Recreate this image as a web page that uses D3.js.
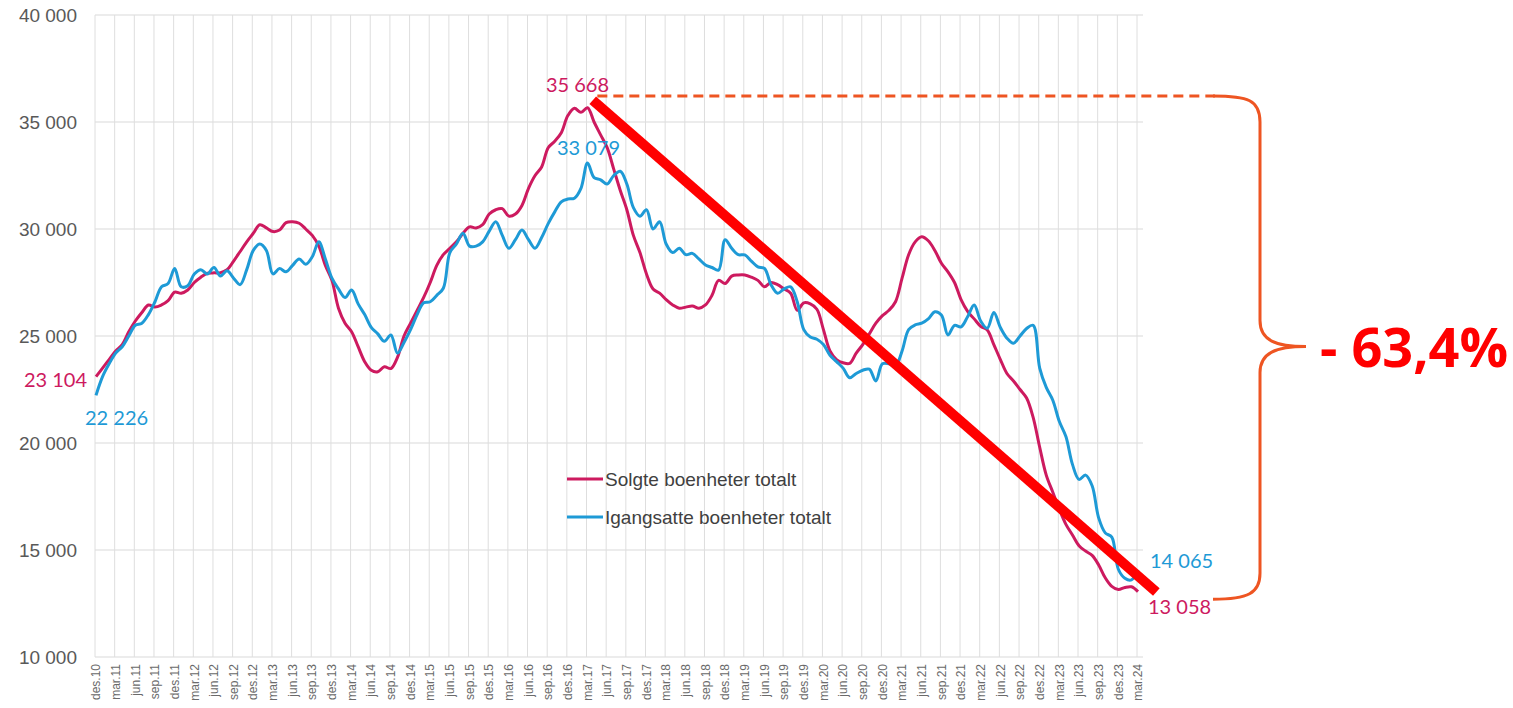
<!DOCTYPE html>
<html>
<head>
<meta charset="utf-8">
<script src="https://cdn.jsdelivr.net/npm/d3@7"></script>
<style>
  html, body { margin: 0; padding: 0; background: #fff; }
  svg { display: block; }
</style>
</head>
<body>
<svg id="chart" width="1513" height="708"></svg>
<script>
// ---------- DATA ----------
// Monthly values, des.10 (index 0) to mar.24 (index 159)
const solgte = [
  23104, 23500, 23900, 24300, 24600, 25200, 25700, 26100, 26450, 26350,
  26450, 26650, 27050, 27000, 27150, 27500, 27750, 27930, 27950, 27960,
  28100, 28500, 28950, 29400, 29800, 30200, 30050, 29880, 29950, 30300,
  30340, 30270, 30000, 29700, 29200, 28300, 27600, 26300, 25600, 25200,
  24500, 23800, 23400, 23330, 23560, 23480, 24000, 25000, 25600, 26200,
  26800, 27500, 28300, 28800, 29100, 29400, 29800, 30100, 30050, 30200,
  30700, 30900, 30950, 30600, 30700, 31100, 31900, 32500, 32900, 33800,
  34100, 34500, 35300, 35640, 35450, 35668, 35000, 34400, 33800, 32800,
  31800, 30900, 29700, 28900, 27900, 27200, 27000, 26700, 26450, 26300,
  26350, 26400, 26300, 26450, 26900, 27600, 27450, 27800, 27850, 27850,
  27750, 27600, 27300, 27500, 27400, 27200, 27000, 26200, 26550, 26500,
  26250, 25300, 24300, 23900, 23750, 23720, 24200, 24600, 25100, 25600,
  25950, 26200, 26600, 27700, 28800, 29400, 29640, 29450, 29000, 28400,
  28000, 27500, 26700, 26150, 25800, 25450, 25280, 24600, 23900, 23250,
  22900, 22500, 22100, 21200, 19800, 18500, 17700, 16900, 16200, 15700,
  15200, 14950, 14750, 14300, 13700, 13300, 13150, 13250, 13280, 13058
];
const igangsatte = [
  22226, 23100, 23700, 24200, 24500, 25000, 25500, 25600, 26000, 26600,
  27300, 27450, 28150, 27300, 27350, 27900, 28100, 27900, 28200, 27800,
  28050, 27700, 27400, 28100, 29000, 29300, 29000, 27900, 28150, 28000,
  28300, 28600, 28350, 28700, 29400, 28600, 27700, 27200, 26800, 27150,
  26500, 26000, 25400, 25100, 24750, 25050, 24200, 24700, 25300, 26000,
  26550, 26600, 26900, 27230, 28900, 29300, 29800, 29200, 29200, 29400,
  29900, 30340, 29700, 29100, 29500, 29950, 29500, 29100, 29600, 30250,
  30800, 31270, 31400, 31440, 31900, 33079, 32400, 32300, 32100, 32500,
  32700, 32100, 31000, 30600, 30900, 30000, 30340, 29300, 28900, 29100,
  28800, 28860, 28600, 28320, 28200, 28080, 29500, 29100, 28800, 28790,
  28500, 28230, 28160, 27400, 27000, 27200, 27300, 26600, 25300, 24950,
  24850, 24600, 24100, 23800, 23500, 23050, 23250, 23400, 23450, 22900,
  23700, 23700, 23600, 24300, 25300, 25520, 25600, 25800, 26130, 25980,
  25050, 25500, 25430, 25900, 26448, 25700, 25360, 26100, 25400, 24900,
  24660, 25000, 25350, 25500, 23500, 22600, 22000, 21000, 20300, 19000,
  18300, 18500, 18000, 16500, 15800, 15600, 14100, 13680, 13600, 14065
];
const tickLabels = [
  "des.10","mar.11","jun.11","sep.11","des.11","mar.12","jun.12","sep.12","des.12",
  "mar.13","jun.13","sep.13","des.13","mar.14","jun.14","sep.14","des.14",
  "mar.15","jun.15","sep.15","des.15","mar.16","jun.16","sep.16","des.16",
  "mar.17","jun.17","sep.17","des.17","mar.18","jun.18","sep.18","des.18",
  "mar.19","jun.19","sep.19","des.19","mar.20","jun.20","sep.20","des.20",
  "mar.21","jun.21","sep.21","des.21","mar.22","jun.22","sep.22","des.22",
  "mar.23","jun.23","sep.23","des.23","mar.24"
];
const yTicks = [10000, 15000, 20000, 25000, 30000, 35000, 40000];
const seriesNames = ["Solgte boenheter totalt", "Igangsatte boenheter totalt"];
const changeLabel = "- 63,4%";

// ---------- SETUP ----------
const svg = d3.select("#chart");
const C_RED = "#cd1a5f", C_BLUE = "#1e9ad6", C_ORANGE = "#ee5522";
const fmt = v => d3.format(",")(v).replace(/,/g, " ");

const x = d3.scaleLinear().domain([0, 159]).range([96, 1138]);
const y = d3.scaleLinear().domain([10000, 40000]).range([657, 15]);
const plotL = 95, plotR = 1143;

// gridlines
const grid = svg.append("g");
grid.selectAll("line.h").data(yTicks).join("line")
  .attr("x1", plotL).attr("x2", plotR)
  .attr("y1", d => y(d)).attr("y2", d => y(d))
  .attr("stroke", "#d9d9d9").attr("stroke-width", 1);
grid.selectAll("line.v").data(tickLabels).join("line")
  .attr("x1", (d, i) => x(i * 3) - 1).attr("x2", (d, i) => x(i * 3) - 1)
  .attr("y1", y(40000)).attr("y2", y(10000))
  .attr("stroke", "#dedede").attr("stroke-width", 1);

// y axis labels
svg.append("g").selectAll("text").data(yTicks).join("text")
  .attr("x", 77).attr("y", d => y(d)).attr("dy", "0.35em")
  .attr("text-anchor", "end")
  .attr("font-family", "Liberation Sans, Arial, sans-serif")
  .attr("font-size", 19).attr("fill", "#595959")
  .text(d => fmt(d));

// x axis labels
svg.append("g").selectAll("text").data(tickLabels).join("text")
  .attr("transform", (d, i) => `translate(${x(i * 3)},664) rotate(-90)`)
  .attr("dy", "0.35em")
  .attr("text-anchor", "end")
  .attr("font-family", "Liberation Sans, Arial, sans-serif")
  .attr("font-size", 12).attr("fill", "#6a6a6a")
  .text(d => d);

// lines
const line = d3.line().x((d, i) => x(i)).y(d => y(d)).curve(d3.curveCatmullRom.alpha(0.5));
svg.append("path").datum(solgte).attr("d", line)
  .attr("fill", "none").attr("stroke", C_RED).attr("stroke-width", 3)
  .attr("stroke-linejoin", "round");
svg.append("path").datum(igangsatte).attr("d", line)
  .attr("fill", "none").attr("stroke", C_BLUE).attr("stroke-width", 3)
  .attr("stroke-linejoin", "round");

// legend
const legend = svg.append("g").attr("font-family", "Liberation Sans, Arial, sans-serif")
  .attr("font-size", 19).attr("fill", "#404040");
[[C_RED, 479], [C_BLUE, 517]].forEach(([c, ly], i) => {
  legend.append("line").attr("x1", 567).attr("x2", 603).attr("y1", ly).attr("y2", ly)
    .attr("stroke", c).attr("stroke-width", 3);
  legend.append("text").attr("x", 605).attr("y", ly).attr("dy", "0.35em").text(seriesNames[i]);
});

// value labels
const labFont = "Lato, 'Open Sans', sans-serif";
const last = solgte.length - 1;
const peakIdx = solgte.indexOf(d3.max(solgte));
const bPeakIdx = igangsatte.indexOf(d3.max(igangsatte));
function vlabel(txt, px, py, anchor, color) {
  svg.append("text").attr("x", px).attr("y", py).attr("text-anchor", anchor)
    .attr("font-family", labFont).attr("font-size", 20).attr("fill", color).text(txt);
}
vlabel(fmt(solgte[0]), x(0) - 9, y(solgte[0]) + 10, "end", C_RED);
vlabel(fmt(igangsatte[0]), x(0) - 11, y(igangsatte[0]) + 30, "start", C_BLUE);
vlabel(fmt(solgte[peakIdx]), x(peakIdx) - 10, y(solgte[peakIdx]) - 16, "middle", C_RED);
vlabel(fmt(igangsatte[bPeakIdx]), x(bPeakIdx) + 1, y(igangsatte[bPeakIdx]) - 8, "middle", C_BLUE);
vlabel(fmt(igangsatte[last]), x(last) + 12, y(igangsatte[last]) - 2, "start", C_BLUE);
vlabel(fmt(solgte[last]), x(last) + 10, y(solgte[last]) + 22, "start", C_RED);

// annotation: dashed level line at peak, trend line, brace, change label
const topY = y(36215), botY = y(12980);
svg.append("line")
  .attr("x1", x(76.5)).attr("x2", 1215).attr("y1", topY).attr("y2", topY)
  .attr("stroke", C_ORANGE).attr("stroke-width", 3).attr("stroke-dasharray", "10 6");
svg.append("line")
  .attr("x1", x(75.8)).attr("y1", y(36020))
  .attr("x2", x(161.8)).attr("y2", y(13040))
  .attr("stroke", "#ff0000").attr("stroke-width", 10);
const bx = 1260, tipX = 1306, midY = (topY + botY) / 2 + 2;
svg.append("path")
  .attr("d", `M1213,${topY} C1248,${topY} ${bx},${topY + 4} ${bx},${topY + 26}
              L${bx},${midY - 26} C${bx},${midY - 6} ${bx + 16},${midY} ${tipX},${midY}
              C${bx + 16},${midY} ${bx},${midY + 6} ${bx},${midY + 26}
              L${bx},${botY - 20} C${bx},${botY} ${bx - 12},${botY + 6} 1213,${botY + 6}`)
  .attr("fill", "none").attr("stroke", C_ORANGE).attr("stroke-width", 3);
svg.append("text").attr("x", 1320).attr("y", midY + 20)
  .attr("font-family", "'Open Sans', 'Liberation Sans', sans-serif")
  .attr("font-weight", 700).attr("font-size", 54).attr("fill", "#ff0000")
  .text(changeLabel);
</script>
</body>
</html>
